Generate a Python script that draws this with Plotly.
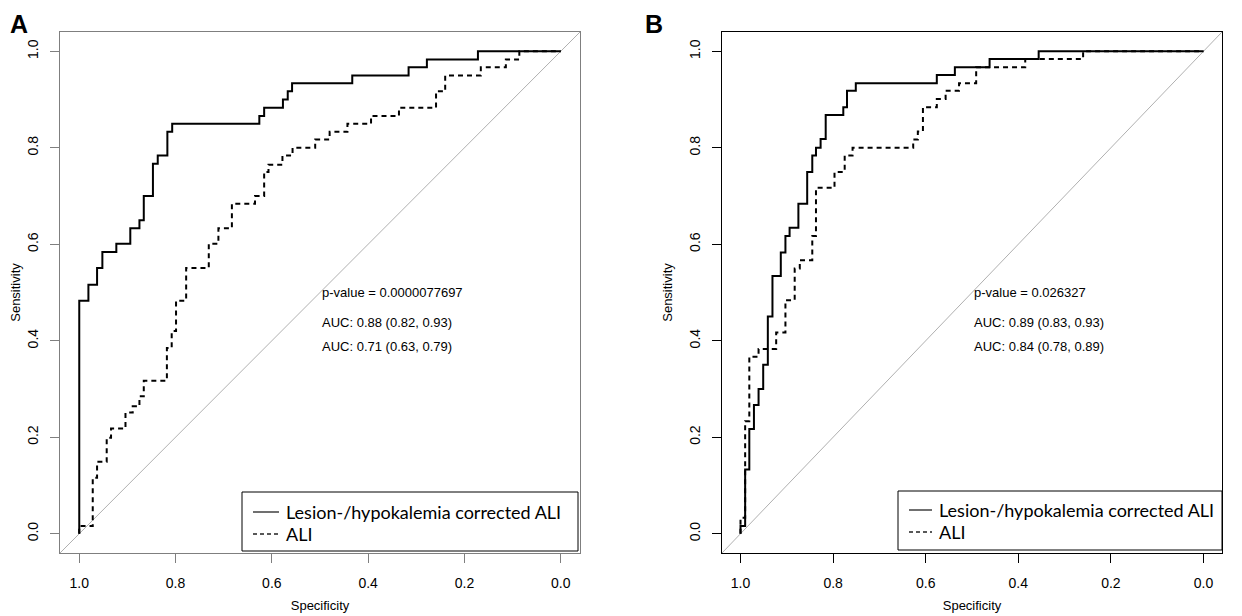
import plotly.graph_objects as go

# ---- ROC step corners (specificity, sensitivity)

# panel A
spec_a_lesion = [1.0, 1.0, 0.981, 0.963, 0.952, 0.923, 0.894, 0.875, 0.866, 0.847, 0.837,
                 0.817, 0.807, 0.626, 0.616, 0.577, 0.567, 0.558, 0.433, 0.316, 0.278,
                 0.172, 0.0]
sens_a_lesion = [0.0, 0.483, 0.516, 0.551, 0.584, 0.601, 0.633, 0.650, 0.700, 0.767, 0.784,
                 0.833, 0.850, 0.866, 0.883, 0.900, 0.917, 0.934, 0.950, 0.967, 0.983,
                 1.0, 1.0]

spec_a_ali = [1.0, 1.0, 0.972, 0.963, 0.943, 0.934, 0.904, 0.889, 0.875, 0.866, 0.818,
              0.808, 0.799, 0.778, 0.731, 0.711, 0.683, 0.635, 0.616, 0.607, 0.578,
              0.557, 0.510, 0.480, 0.443, 0.394, 0.336, 0.259, 0.240, 0.166, 0.114,
              0.086, 0.0]
sens_a_ali = [0.0, 0.016, 0.116, 0.149, 0.199, 0.218, 0.251, 0.264, 0.285, 0.317, 0.385,
              0.420, 0.483, 0.551, 0.601, 0.633, 0.684, 0.700, 0.750, 0.765, 0.784,
              0.800, 0.817, 0.833, 0.850, 0.866, 0.883, 0.917, 0.950, 0.967, 0.983,
              1.0, 1.0]

# panel B
spec_b_lesion = [1.0, 1.0, 0.990, 0.981, 0.971, 0.961, 0.951, 0.941, 0.931, 0.913, 0.903,
                 0.894, 0.875, 0.856, 0.845, 0.837, 0.827, 0.816, 0.778, 0.770, 0.751,
                 0.576, 0.537, 0.462, 0.356, 0.0]
sens_b_lesion = [0.0, 0.016, 0.133, 0.217, 0.267, 0.300, 0.350, 0.450, 0.534, 0.583, 0.617,
                 0.634, 0.684, 0.750, 0.784, 0.800, 0.818, 0.868, 0.884, 0.918, 0.934,
                 0.951, 0.967, 0.984, 1.0, 1.0]

spec_b_ali = [1.0, 1.0, 0.990, 0.981, 0.961, 0.923, 0.903, 0.883, 0.872, 0.845, 0.837,
              0.797, 0.775, 0.758, 0.627, 0.617, 0.606, 0.576, 0.557, 0.528, 0.491,
              0.385, 0.260, 0.0]
sens_b_ali = [0.0, 0.033, 0.233, 0.367, 0.383, 0.417, 0.484, 0.550, 0.567, 0.617, 0.717,
              0.750, 0.784, 0.800, 0.817, 0.834, 0.884, 0.901, 0.918, 0.934, 0.967,
              0.984, 1.0, 1.0]

labels = ["Lesion-/hypokalemia corrected ALI", "ALI"]
pvalues = ["p-value = 0.0000077697", "p-value = 0.026327"]
auc_a = ["AUC: 0.88 (0.82, 0.93)", "AUC: 0.71 (0.63, 0.79)"]
auc_b = ["AUC: 0.89 (0.83, 0.93)", "AUC: 0.84 (0.78, 0.89)"]

tick_vals = [0.0, 0.2, 0.4, 0.6, 0.8, 1.0]
tick_text = ["0.0", "0.2", "0.4", "0.6", "0.8", "1.0"]

W, H = 1242, 616
OFF = 8  # page body margin
ARIAL = "Liberation Sans, Arial, sans-serif"
LEG_FONT = "Lato, Open Sans, sans-serif"


def px(x):
    return max(0.0, (x - OFF) / W)


def py(y):
    return 1 - (y - OFF) / H


fig = go.Figure()


def add_panel(xa, ya, spec1, sens1, spec2, sens2):
    # chance line, corner to corner of the box
    fig.add_trace(go.Scatter(
        x=[1.04, -0.04], y=[-0.04, 1.04], mode="lines",
        line=dict(color="#b0b0b0", width=1), showlegend=False,
        hoverinfo="skip", xaxis=xa, yaxis=ya,
    ))
    fig.add_trace(go.Scatter(
        x=spec1, y=sens1, mode="lines", line_shape="hv", name=labels[0],
        line=dict(color="black", width=2), xaxis=xa, yaxis=ya, showlegend=False,
    ))
    fig.add_trace(go.Scatter(
        x=spec2, y=sens2, mode="lines", line_shape="hv", name=labels[1],
        line=dict(color="black", width=2, dash="5px,4px"),
        xaxis=xa, yaxis=ya, showlegend=False,
    ))


add_panel("x", "y", spec_a_lesion, sens_a_lesion, spec_a_ali, sens_a_ali)
add_panel("x2", "y2", spec_b_lesion, sens_b_lesion, spec_b_ali, sens_b_ali)

y_dom = [py(553), py(32)]
dom_a = [px(60), px(580)]
dom_b = [px(722), px(1222)]


def xaxis(domain, anchor, color):
    return dict(
        domain=domain, anchor=anchor, range=[1.04, -0.04], automargin=False,
        tickvals=tick_vals, ticktext=tick_text, ticks="outside", ticklen=9,
        tickcolor=color, ticklabelstandoff=8, showgrid=False, zeroline=False,
        showline=True, mirror=True, linecolor=color, linewidth=1,
        tickfont=dict(family=ARIAL, size=14, color="black"),
        title=dict(text="Specificity", standoff=11,
                   font=dict(family=ARIAL, size=13, color="black")),
    )


def yaxis(domain, anchor, color):
    return dict(
        domain=domain, anchor=anchor, range=[-0.04, 1.04], automargin=False,
        tickvals=tick_vals, ticktext=tick_text, ticks="outside", ticklen=9,
        tickcolor=color, tickangle=-90, ticklabelstandoff=6,
        showgrid=False, zeroline=False,
        showline=True, mirror=True, linecolor=color, linewidth=1,
        tickfont=dict(family=ARIAL, size=14, color="black"),
        title=dict(text="Sensitivity", standoff=11,
                   font=dict(family=ARIAL, size=13, color="black")),
    )


annotations = []
shapes = []
for xa, ya, ptxt, aucs in [("x", "y", pvalues[0], auc_a), ("x2", "y2", pvalues[1], auc_b)]:
    for txt, yy in [(ptxt, 0.50), (aucs[0], 0.437), (aucs[1], 0.388)]:
        annotations.append(dict(
            x=0.5, y=yy, xref=xa, yref=ya, text=txt, showarrow=False,
            xanchor="left", yanchor="middle",
            font=dict(family=ARIAL, size=13, color="black"),
        ))

for letter, lx in [("A", 8), ("B", 643)]:
    annotations.append(dict(
        x=px(lx), y=1.0, xref="paper", yref="paper", text="<b>%s</b>" % letter,
        showarrow=False, xanchor="left", yanchor="top",
        font=dict(family=ARIAL, size=25, color="black"),
    ))

# hand-drawn legend boxes (R style): box, line samples, labels
legend_boxes = [
    # box left, top, right, bottom, sample x0, sample x1, row y1, row y2
    (242, 492, 578, 551, 253, 279, 512, 534),
    (898, 491, 1222, 550, 909, 932, 510, 532),
]
for x0, y0, x1, y1, sx0, sx1, r1, r2 in legend_boxes:
    shapes.append(dict(type="rect", xref="paper", yref="paper",
                       x0=px(x0), x1=px(x1), y0=py(y1), y1=py(y0),
                       line=dict(color="black", width=1), fillcolor="white",
                       layer="above"))
    for ry, dash in [(r1, "solid"), (r2, "4px,3px")]:
        shapes.append(dict(type="line", xref="paper", yref="paper",
                           x0=px(sx0), x1=px(sx1), y0=py(ry), y1=py(ry),
                           line=dict(color="#222222", width=1.3, dash=dash),
                           layer="above"))
    for ry, txt in [(r1, labels[0]), (r2, labels[1])]:
        annotations.append(dict(
            x=px(sx1 + 5), y=py(ry), xref="paper", yref="paper", text=txt,
            showarrow=False, xanchor="left", yanchor="middle",
            font=dict(family=LEG_FONT, size=18, color="black"),
        ))

fig.update_layout(
    width=W, height=H, margin=dict(l=0, r=0, t=0, b=0),
    paper_bgcolor="white", plot_bgcolor="white",
    xaxis=xaxis(dom_a, "y", "#7f7f7f"),
    yaxis=yaxis(y_dom, "x", "#7f7f7f"),
    xaxis2=xaxis(dom_b, "y2", "black"),
    yaxis2=yaxis(y_dom, "x2", "black"),
    annotations=annotations,
    shapes=shapes,
    showlegend=False,
)

fig.write_html("out.html")
